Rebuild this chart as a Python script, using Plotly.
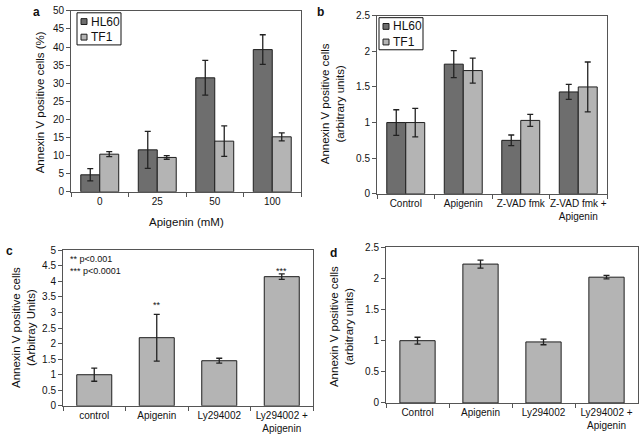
import plotly.graph_objects as go

# panel a
conc = ["0", "25", "50", "100"]
hl60_a = [4.7, 11.6, 31.5, 39.3]
hl60_a_err = [1.7, 5.1, 4.8, 4.1]
tf1_a = [10.4, 9.5, 14.0, 15.2]
tf1_a_err = [0.7, 0.5, 4.2, 1.1]

# panel b
treat_b = ["Control", "Apigenin", "Z-VAD fmk", "Z-VAD fmk +<br>Apigenin"]
hl60_b = [1.0, 1.82, 0.75, 1.43]
hl60_b_err = [0.18, 0.19, 0.075, 0.105]
tf1_b = [1.0, 1.73, 1.03, 1.50]
tf1_b_err = [0.20, 0.175, 0.085, 0.35]

# panel c
treat_c = ["control", "Apigenin", "Ly294002", "Ly294002 +<br>Apigenin"]
val_c = [1.0, 2.19, 1.45, 4.15]
err_c = [0.21, 0.75, 0.08, 0.09]
stars_c = ["", "**", "", "***"]
star_y_c = [None, 3.25, None, 4.32]

# panel d
treat_d = ["Control", "Apigenin", "Ly294002", "Ly294002 +<br>Apigenin"]
val_d = [1.0, 2.23, 0.98, 2.02]
err_d = [0.055, 0.065, 0.045, 0.028]

series_names = ["HL60", "TF1"]

DARK = "#6e6e6e"
LIGHT = "#b4b4b4"
EDGE = "#1e1e1e"
TXT = "#111111"
FONT = "Liberation Sans, Arial, sans-serif"


def px_x(p):
    return p / 640


def px_y(p):
    return 1 - p / 443


def err(arr):
    return dict(type="data", array=arr, visible=True, color="#222",
                thickness=1.3, width=3)


fig = go.Figure()

fig.add_trace(go.Bar(x=conc, y=hl60_a, name="HL60", marker_color=DARK,
                     marker_line=dict(color=EDGE, width=1), error_y=err(hl60_a_err),
                     xaxis="x", yaxis="y"))
fig.add_trace(go.Bar(x=conc, y=tf1_a, name="TF1", marker_color=LIGHT,
                     marker_line=dict(color=EDGE, width=1), error_y=err(tf1_a_err),
                     xaxis="x", yaxis="y"))

fig.add_trace(go.Bar(x=treat_b, y=hl60_b, name="HL60", marker_color=DARK,
                     marker_line=dict(color=EDGE, width=1), error_y=err(hl60_b_err),
                     xaxis="x2", yaxis="y2"))
fig.add_trace(go.Bar(x=treat_b, y=tf1_b, name="TF1", marker_color=LIGHT,
                     marker_line=dict(color=EDGE, width=1), error_y=err(tf1_b_err),
                     xaxis="x2", yaxis="y2"))

fig.add_trace(go.Bar(x=treat_c, y=val_c, marker_color=LIGHT,
                     marker_line=dict(color=EDGE, width=1), error_y=err(err_c),
                     width=0.56, xaxis="x3", yaxis="y3"))
fig.add_trace(go.Bar(x=treat_d, y=val_d, marker_color=LIGHT,
                     marker_line=dict(color=EDGE, width=1), error_y=err(err_d),
                     width=0.56, xaxis="x4", yaxis="y4"))

axis_common = dict(showline=True, linecolor="#555", linewidth=1, mirror=True,
                   showgrid=False, zeroline=False,
                   tickfont=dict(size=10, color=TXT, family=FONT))
xcommon = dict(axis_common, ticks="outside", tickson="boundaries", ticklen=4,
               tickcolor="#555", type="category", tickangle=0)
ycommon = dict(axis_common, ticks="outside", ticklen=4, tickcolor="#555")

fig.update_layout(
    width=640, height=443,
    margin=dict(l=0, r=0, t=0, b=0),
    paper_bgcolor="white", plot_bgcolor="white",
    font=dict(family=FONT, size=11, color=TXT),
    showlegend=False,
    barmode="group", bargap=0.34, bargroupgap=0.0,
    xaxis=dict(xcommon, domain=[px_x(71), px_x(301)], anchor="y"),
    yaxis=dict(ycommon, domain=[px_y(191), px_y(5)], anchor="x",
               range=[0, 50], dtick=5),
    xaxis2=dict(xcommon, domain=[px_x(377), px_x(607)], anchor="y2"),
    yaxis2=dict(ycommon, domain=[px_y(193), px_y(10)], anchor="x2",
                range=[0, 2.5], dtick=0.5),
    xaxis3=dict(xcommon, domain=[px_x(63), px_x(313)], anchor="y3"),
    yaxis3=dict(ycommon, domain=[px_y(411), px_y(251)], anchor="x3",
                range=[0, 5], dtick=0.5),
    xaxis4=dict(xcommon, domain=[px_x(386), px_x(638)], anchor="y4"),
    yaxis4=dict(ycommon, domain=[px_y(408), px_y(248)], anchor="x4",
                range=[0, 2.5], dtick=0.5),
)

ann = []
shapes = []

# small boxed legends for panels a and b
for bx, by in [(77, 7), (379, 12)]:
    shapes.append(dict(type="rect", xref="paper", yref="paper",
                       x0=px_x(bx), x1=px_x(bx + 44), y0=px_y(by + 33), y1=px_y(by),
                       line=dict(color="#111", width=1), fillcolor="white"))
    for i, (nm, col) in enumerate(zip(series_names, [DARK, LIGHT])):
        cy = by + 9 + i * 16
        shapes.append(dict(type="rect", xref="paper", yref="paper",
                           x0=px_x(bx + 4), x1=px_x(bx + 10),
                           y0=px_y(cy + 3), y1=px_y(cy - 3),
                           line=dict(color=EDGE, width=1), fillcolor=col))
        ann.append(dict(text=nm, x=px_x(bx + 12), y=px_y(cy), xref="paper",
                        yref="paper", showarrow=False, xanchor="left",
                        yanchor="middle", font=dict(size=12, color=TXT)))

# panel letters
for txt, x, y in [("a", 36, 6), ("b", 320, 6), ("c", 9, 252), ("d", 333, 254)]:
    ann.append(dict(text="<b>%s</b>" % txt, x=px_x(x), y=px_y(y), xref="paper",
                    yref="paper", showarrow=False, font=dict(size=12, color=TXT),
                    xanchor="center", yanchor="middle"))
# y titles
for txt, x, y in [("Annexin V positive cells (%)", 40, 99),
                  ("Annexin V positive cells<br>(arbitrary units)", 332, 101),
                  ("Annexin V positive cells<br>(Arbitray Units)", 23, 331),
                  ("Annexin V positive cells<br>(arbitrary units)", 341, 330)]:
    ann.append(dict(text=txt, x=px_x(x), y=px_y(y), xref="paper", yref="paper",
                    showarrow=False, textangle=-90,
                    font=dict(size=11.5, color=TXT),
                    xanchor="center", yanchor="middle"))
# x title panel a
ann.append(dict(text="Apigenin (mM)", x=px_x(186), y=px_y(222), xref="paper",
                yref="paper", showarrow=False, font=dict(size=11.5, color=TXT),
                xanchor="center", yanchor="middle"))
# p-value key panel c
ann.append(dict(text="** p<0.001<br>*** p<0.0001", x=px_x(68), y=px_y(253),
                xref="paper", yref="paper", showarrow=False, align="left",
                font=dict(size=9, color=TXT), xanchor="left", yanchor="top"))
# significance stars
for cat, s, yv in zip(treat_c, stars_c, star_y_c):
    if s:
        ann.append(dict(text=s, x=cat, y=yv, xref="x3", yref="y3",
                        showarrow=False, font=dict(size=9, color=TXT),
                        xanchor="center", yanchor="middle"))
fig.update_layout(annotations=ann, shapes=shapes)

# drop the default page margin so the figure sits at the window origin
fig.write_html("out.html", config={"displayModeBar": False},
               post_script="document.body.style.margin='0';")
